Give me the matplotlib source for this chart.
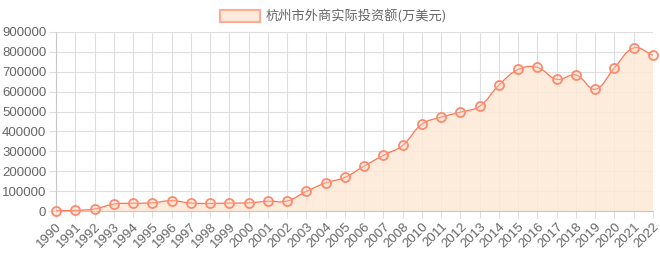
import matplotlib
matplotlib.use("Agg")
import matplotlib.pyplot as plt
import numpy as np
from matplotlib.path import Path
from matplotlib.patches import PathPatch, Rectangle

years = ["1990", "1991", "1992", "1993", "1994", "1995", "1996", "1997", "1998", "1999",
         "2000", "2001", "2002", "2003", "2004", "2005", "2006", "2007", "2008",
         "2010", "2011", "2012", "2013", "2014", "2015", "2016", "2017", "2018",
         "2019", "2020", "2021", "2022"]
values = [2000, 3000, 10000, 35000, 39000, 41000, 52000, 40000, 38000, 40000,
          41000, 49000, 50000, 99000, 141000, 169000, 226000, 280000, 330000,
          437000, 472000, 497000, 527000, 633000, 712000, 722000, 662000, 684000,
          612000, 720000, 820000, 783000]
series_name = "杭州市外商实际投资额(万美元)"
yticks = list(range(0, 900001, 100000))

LINE = "#ff7657"
FILL = (253/255, 232/255, 214/255, 0.85)
GRID = "#dedede"
TXT = "#666666"

plt.rcParams['font.family'] = ['Liberation Sans', 'DejaVu Sans']

fig = plt.figure(figsize=(6.6, 2.6), dpi=100)
ax = fig.add_axes([56/660, 1-211/260, (653-56)/660, (211-32)/260])
x = np.arange(len(years))
ax.set_xlim(0, len(years)-1)
ax.set_ylim(0, 900000)

# Chart.js-like bezier smoothing computed in pixel space
fig.canvas.draw()
pts = ax.transData.transform(np.column_stack([x, values]))
t = 0.4
verts = [tuple(pts[0])]
codes = [Path.MOVETO]
n = len(pts)
cps = []
bb = ax.transData.transform([[0, 0], [0, 900000]])
ymin_px, ymax_px = bb[0][1], bb[1][1]
for i in range(n):
    prev = pts[i-1] if i > 0 else pts[i]
    cur = pts[i]
    nxt = pts[i+1] if i < n-1 else pts[i]
    d01 = np.hypot(*(cur-prev))
    d12 = np.hypot(*(nxt-cur))
    tot = d01 + d12
    s01 = d01/tot if tot else 0
    s12 = d12/tot if tot else 0
    c1 = cur - t*s01*(nxt-prev)
    c2 = cur + t*s12*(nxt-prev)
    c1[1] = min(max(c1[1], ymin_px), ymax_px)
    c2[1] = min(max(c2[1], ymin_px), ymax_px)
    cps.append((c1, c2))
for i in range(1, n):
    verts += [tuple(cps[i-1][1]), tuple(cps[i][0]), tuple(pts[i])]
    codes += [Path.CURVE4]*3
inv = ax.transData.inverted()
dverts = inv.transform(np.array(verts))
line_path = Path(dverts, codes)
fill_verts = np.vstack([dverts, [[x[-1], 0], [x[0], 0], dverts[0]]])
fill_codes = codes + [Path.LINETO, Path.LINETO, Path.CLOSEPOLY]
ax.add_patch(PathPatch(Path(fill_verts, fill_codes), facecolor=FILL, edgecolor='none', zorder=1))
ax.add_patch(PathPatch(line_path, facecolor='none', edgecolor=LINE, lw=0.9, zorder=3))
ax.plot(x, values, linestyle='none', marker='o', markersize=6.5, markerfacecolor=(1, 0.85, 0.78, 0.3),
        markeredgecolor="#ff8a6e", markeredgewidth=1.3, zorder=4, clip_on=False)

ax.set_yticks(yticks)
ax.set_yticklabels([str(v) for v in yticks], fontsize=9.5, color=TXT)
ax.set_xticks(x)
ax.set_xticklabels(years, rotation=45, ha='right', va='top', rotation_mode='anchor', fontsize=9.5, color=TXT)
ax.grid(True, color=GRID, lw=0.8, zorder=0)
ax.set_axisbelow(True)
for s in ['top', 'right']:
    ax.spines[s].set_visible(False)
ax.spines['left'].set_color('#c8c8c8')
ax.spines['bottom'].set_color('#c8c8c8')
ax.tick_params(axis='both', length=5, color=GRID, pad=2)

# legend
fig.patches.append(Rectangle((220/660, 1-22/260), 40/660, 12/260, transform=fig.transFigure,
                             facecolor="#fdeadc", edgecolor="#ffab96", lw=1.5))
fig.text(266/660, 1-16/260, series_name, fontsize=9.5, color=TXT, va='center', ha='left',
         family=['Noto Sans CJK SC', 'DejaVu Sans'])

fig.savefig("out.png", dpi=100)
